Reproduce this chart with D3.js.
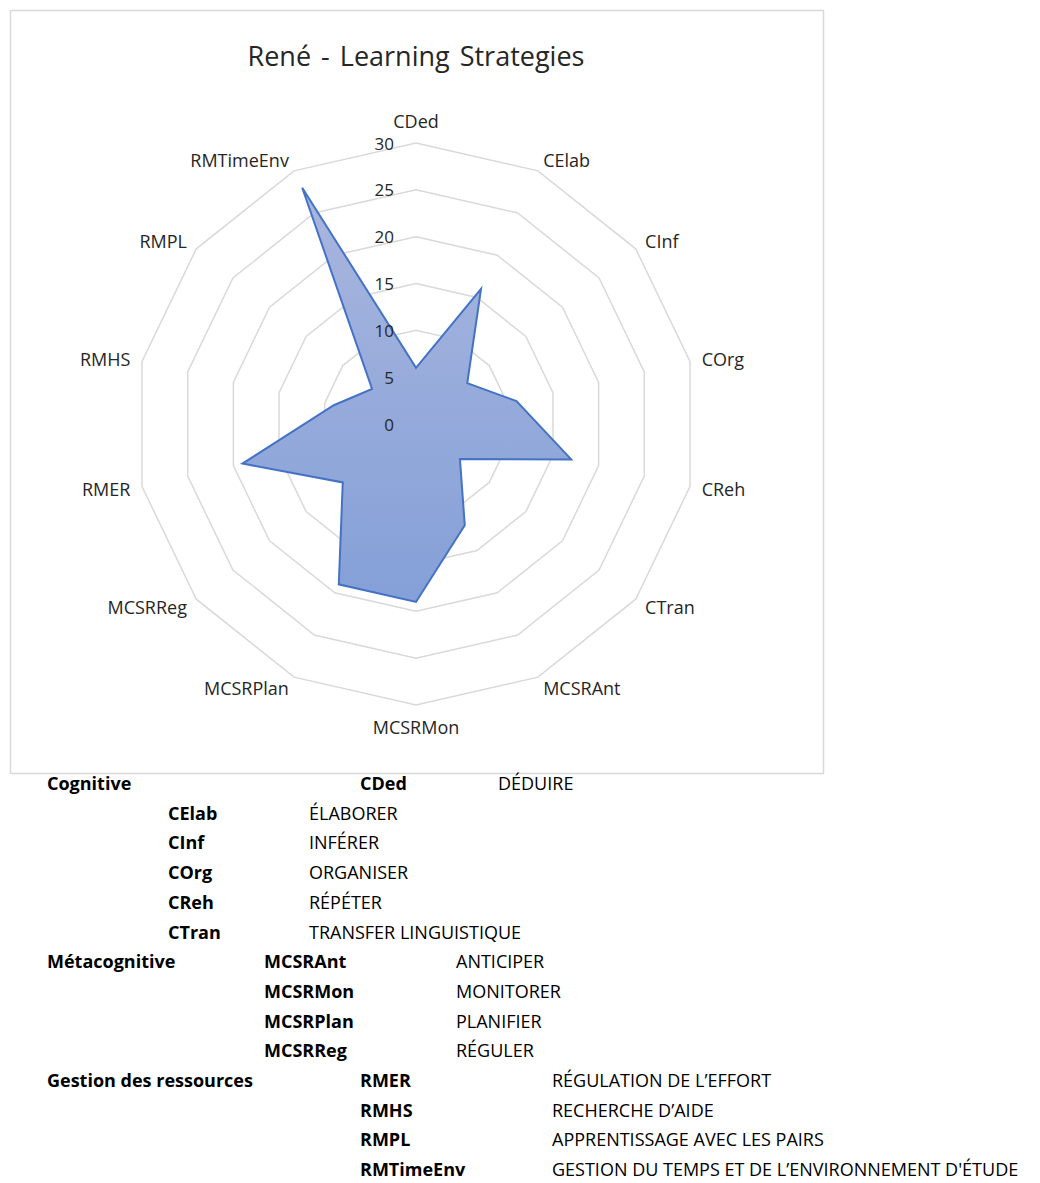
<!DOCTYPE html>
<html>
<head>
<meta charset="utf-8">
<script src="https://cdn.jsdelivr.net/npm/d3@7"></script>
<style>
  body { margin: 0; background: #fff; }
  svg { display: block; font-family: "Open Sans", Lato, sans-serif; }
</style>
</head>
<body>
<svg id="chart" width="1040" height="1183"></svg>
<script>
// chart data
const title = "René - Learning Strategies";
const categories = ["CDed", "CElab", "CInf", "COrg", "CReh", "CTran", "MCSRAnt",
  "MCSRMon", "MCSRPlan", "MCSRReg", "RMER", "RMHS", "RMPL", "RMTimeEnv"];
const values = [6, 16, 7, 11, 17, 6, 12, 19, 19, 10, 19, 9, 6, 28];
const tickValues = [0, 5, 10, 15, 20, 25, 30];

// glossary under the chart
const groupNames = ["Cognitive", "Métacognitive", "Gestion des ressources"];
const groupCodes = [
  ["CDed", "CElab", "CInf", "COrg", "CReh", "CTran"],
  ["MCSRAnt", "MCSRMon", "MCSRPlan", "MCSRReg"],
  ["RMER", "RMHS", "RMPL", "RMTimeEnv"]
];
const groupDescs = [
  ["DÉDUIRE", "ÉLABORER", "INFÉRER", "ORGANISER", "RÉPÉTER", "TRANSFER LINGUISTIQUE"],
  ["ANTICIPER", "MONITORER", "PLANIFIER", "RÉGULER"],
  ["RÉGULATION DE L’EFFORT", "RECHERCHE D’AIDE", "APPRENTISSAGE AVEC LES PAIRS",
   "GESTION DU TEMPS ET DE L’ENVIRONNEMENT D'ÉTUDE"]
];

const svg = d3.select("#chart");
const cx = 416, cy = 424, R = 281;

const r = d3.scaleLinear().domain([0, 30]).range([0, R]);
const angle = d3.scalePoint().domain(categories).range([0, 2 * Math.PI * (categories.length - 1) / categories.length]);

// frame
svg.append("rect")
  .attr("x", 10.5).attr("y", 10.5)
  .attr("width", 813).attr("height", 763)
  .attr("fill", "none").attr("stroke", "#d9d9d9").attr("stroke-width", 1.5);

svg.append("text")
  .attr("x", cx).attr("y", 55)
  .attr("text-anchor", "middle").attr("dominant-baseline", "central")
  .attr("font-size", 27).attr("fill", "#262626")
  .style("word-spacing", "3px")
  .text(title);

const g = svg.append("g").attr("transform", `translate(${cx},${cy})`);

const radial = d3.lineRadial()
  .angle(d => angle(d.c))
  .radius(d => r(d.v))
  .curve(d3.curveLinearClosed);

// grid polygons
g.selectAll("path.grid")
  .data(tickValues.filter(t => t > 0))
  .join("path")
  .attr("class", "grid")
  .attr("d", t => radial(categories.map(c => ({ c: c, v: t }))))
  .attr("fill", "none")
  .attr("stroke", "#d9d9d9")
  .attr("stroke-width", 1.5);

// fill gradient
const grad = svg.append("defs").append("linearGradient")
  .attr("id", "fillGrad").attr("x1", 0).attr("y1", 0).attr("x2", 0).attr("y2", 1);
grad.append("stop").attr("offset", "0%").attr("stop-color", "#a9b6de");
grad.append("stop").attr("offset", "100%").attr("stop-color", "#84a0d8");

g.append("path")
  .datum(categories.map((c, i) => ({ c: c, v: values[i] })))
  .attr("d", radial)
  .attr("fill", "url(#fillGrad)")
  .attr("stroke", "#4472c4")
  .attr("stroke-width", 2)
  .attr("stroke-linejoin", "miter");

// tick labels
g.selectAll("text.tick")
  .data(tickValues)
  .join("text")
  .attr("class", "tick")
  .attr("x", -22)
  .attr("y", t => -r(t))
  .attr("text-anchor", "end")
  .attr("dominant-baseline", "central")
  .attr("font-size", 17)
  .attr("fill", "#262626")
  .text(t => t);

// category labels
g.selectAll("text.cat")
  .data(categories)
  .join("text")
  .attr("class", "cat")
  .each(function(c) {
    const a = angle(c);
    const s = Math.sin(a), co = Math.cos(a);
    const d = R + 12;
    let x = s * d, y = -co * d;
    if (Math.abs(s) < 0.01) y += co > 0 ? -10 : 10;
    d3.select(this)
      .attr("x", x).attr("y", y)
      .attr("text-anchor", Math.abs(s) < 0.01 ? "middle" : (s > 0 ? "start" : "end"));
  })
  .attr("dominant-baseline", "central")
  .attr("font-size", 18)
  .attr("fill", "#262626")
  .text(c => c);

// glossary table
const rowH = 29.7, row0 = 783;
const groupX = 47;
const codeCols = [168, 264, 360];
const descOffset = [141, 192, 192];
const leg = svg.append("g").attr("font-size", 18).attr("fill", "#000");
let row = 0;
groupNames.forEach((name, gi) => {
  leg.append("text").attr("x", groupX).attr("y", row0 + row * rowH)
    .attr("dominant-baseline", "central").attr("font-weight", "bold").text(name);
  groupCodes[gi].forEach((code, k) => {
    const y = row0 + row * rowH;
    // first cognitive row sits one column further right
    const codeX = (gi === 0 && k === 0) ? 360 : codeCols[gi];
    const descX = (gi === 0 && k === 0) ? 498 : codeX + descOffset[gi];
    leg.append("text").attr("x", codeX).attr("y", y)
      .attr("dominant-baseline", "central").attr("font-weight", "bold").text(code);
    leg.append("text").attr("x", descX).attr("y", y)
      .attr("dominant-baseline", "central").text(groupDescs[gi][k]);
    row++;
  });
});
</script>
</body>
</html>
